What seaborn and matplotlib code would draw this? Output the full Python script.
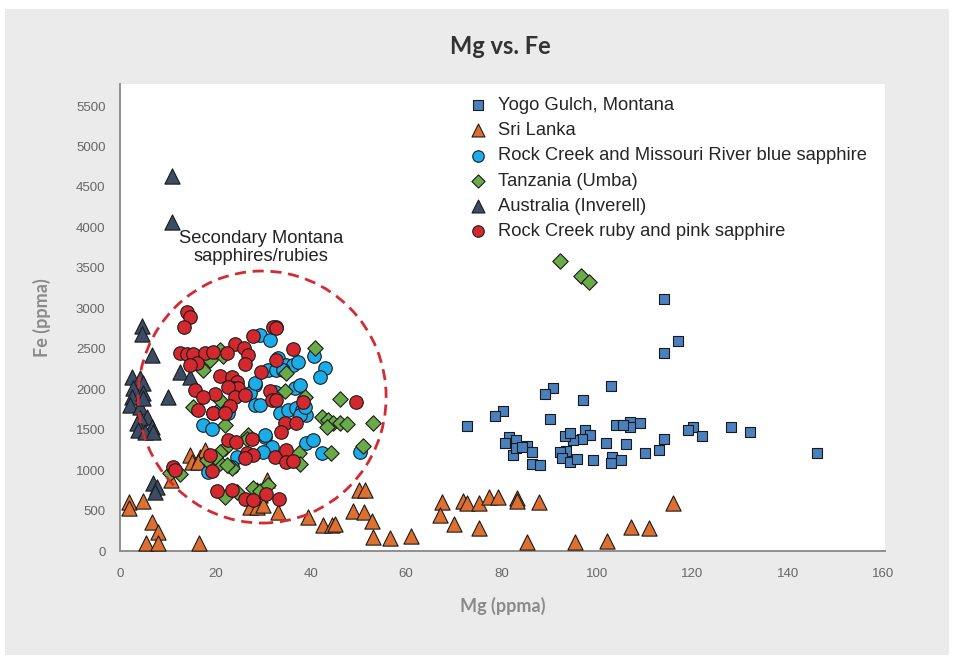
import numpy as np
import pandas as pd
import matplotlib
matplotlib.use("Agg")
import matplotlib.pyplot as plt
from matplotlib.patches import Ellipse, Rectangle
import seaborn as sns

# Mg / Fe values (ppma)
yogo_mg = [114.0, 117.0, 114.0, 90.8, 89.1, 103.0, 97.1, 80.3, 78.6, 72.7, 90.1, 104.0, 106.9, 109.0,
           106.9, 105.5, 120.1, 119.1, 122.0, 128.1, 132.1, 146.1, 114.0, 113.0, 110.0, 106.1, 101.9,
           97.9, 97.5, 98.5, 96.9, 95.0, 93.3, 94.3, 93.5, 92.2, 92.7, 94.3, 95.8, 99.2, 103.1, 102.9,
           105.0, 81.6, 83.0, 80.7, 85.3, 86.4, 82.4, 86.4, 88.1, 83.0, 84.3]
yogo_fe = [3115, 2596, 2447, 2015, 1940, 2040, 1866, 1730, 1669, 1545, 1632, 1557, 1594, 1582,
           1533, 1557, 1533, 1496, 1421, 1533, 1471, 1211, 1384, 1248, 1211, 1322, 1335,
           1434, 1496, 1434, 1384, 1372, 1421, 1458, 1236, 1224, 1149, 1100, 1137, 1125, 1162, 1088,
           1125, 1409, 1372, 1335, 1298, 1224, 1187, 1075, 1063, 1273, 1285]

srilanka_mg = [1.9, 1.9, 4.8, 6.7, 8.0, 5.5, 8.0, 16.6, 10.7, 14.7, 15.1, 16.8, 17.8, 16.4, 30.8,
               29.4, 28.7, 27.3, 28.7, 30.0, 33.1, 39.4, 42.6, 44.4, 45.1, 50.1, 51.4, 48.8, 51.2,
               52.8, 53.0, 56.6, 61.0, 67.5, 67.1, 70.0, 71.9, 72.7, 75.3, 75.3, 77.4, 79.2, 83.2,
               83.2, 87.8, 85.3, 95.4, 102.1, 107.1, 110.9, 115.9]
srilanka_fe = [606, 531, 618, 358, 235, 100, 100, 100, 878, 1187, 1100, 1162, 1248, 1100, 878,
               692, 754, 544, 544, 569, 482, 420, 320, 320, 330, 754, 754, 495, 482,
               370, 173, 161, 185, 606, 445, 334, 618, 593, 593, 284, 667, 667, 655,
               618, 606, 110, 110, 120, 297, 284, 593]

blue_mg = [29.4, 31.4, 32.8, 40.7, 43.0, 41.9, 33.2, 34.9, 36.3, 37.4, 31.1, 32.8, 34.2, 28.3, 27.3,
           28.3, 32.5, 36.7, 37.7, 33.5, 35.3, 37.0, 38.1, 39.1, 37.7, 38.8, 17.5, 19.2, 30.4, 31.8,
           30.0, 24.5, 23.4, 18.5, 39.1, 40.5, 42.3, 50.3, 21.0, 19.6, 28.3, 29.4, 30.4, 22.6]
blue_fe = [2670, 2608, 2772, 2410, 2258, 2146, 2381, 2299, 2299, 2340, 2237, 2237, 2237, 2052, 1949,
           1805, 1970, 2011, 2052, 1702, 1743, 1764, 1743, 1681, 1681, 1784, 1557, 1504, 1413, 1289,
           1227, 1166, 1042, 980, 1331, 1372, 1208, 1227, 1743, 1710, 2073, 1805, 1434, 1710]

tanzania_mg = [40.9, 34.9, 34.6, 38.8, 46.1, 53.1, 42.3, 43.7, 44.7, 46.1, 47.7, 43.3, 22.0, 17.5,
               18.9, 21.0, 21.6, 15.4, 21.0, 26.8, 22.0, 21.0, 23.4, 22.4, 37.6, 37.7, 44.2, 51.0,
               12.6, 10.5, 27.9, 29.4, 31.1, 22.0, 24.5, 21.0, 19.9, 18.2, 26.6, 92.2, 96.6, 98.3]
tanzania_fe = [2513, 2200, 1982, 1908, 1879, 1586, 1661, 1619, 1578, 1578, 1570, 1537, 1557, 2237,
               2361, 2484, 2410, 1784, 1866, 1434, 1269, 1084, 1022, 1063, 1208, 1075, 1208, 1302,
               948, 960, 775, 745, 816, 671, 733, 1227, 1166, 1125, 1390, 3584, 3399, 3325]

australia_mg = [10.9, 10.9, 4.6, 4.6, 6.7, 12.6, 14.7, 10.1, 2.5, 4.2, 4.8, 2.7, 2.5, 4.8, 2.1, 4.2,
                4.8, 5.7, 4.2, 3.6, 6.7, 3.8, 5.2, 6.9, 6.9, 7.8, 7.3]
australia_fe = [4635, 4066, 2781, 2682, 2423, 2212, 2151, 1903, 2151, 2138, 2076, 2015, 1903, 1953,
                1805, 1780, 1891, 1656, 1644, 1582, 1533, 1496, 1471, 1471, 840, 791, 729]

ruby_mg = [14.0, 14.7, 13.4, 32.1, 32.7, 27.9, 24.1, 25.9, 26.9, 26.2, 12.6, 14.0, 15.4, 17.8, 19.6,
           22.4, 16.1, 14.7, 36.3, 32.8, 29.5, 21.0, 23.4, 24.5, 23.7, 24.8, 22.7, 15.7, 19.9, 17.5,
           24.1, 26.2, 23.1, 19.6, 22.0, 16.4, 31.4, 31.8, 32.8, 38.3, 49.5, 34.6, 36.9, 33.7, 22.7,
           24.3, 27.6, 26.6, 27.9, 26.2, 18.9, 19.2, 32.5, 34.8, 34.9, 36.3, 11.2, 11.5, 20.3, 23.4,
           26.2, 27.9, 30.6, 33.4]
ruby_fe = [2958, 2896, 2765, 2772, 2752, 2657, 2559, 2505, 2423, 2311, 2451, 2435, 2435, 2451, 2464,
           2443, 2320, 2299, 2493, 2361, 2216, 2163, 2155, 2093, 2011, 2011, 2031, 1990, 1941, 1900,
           1908, 1928, 1792, 1710, 1702, 1743, 1982, 1866, 1866, 1845, 1845, 1586, 1578, 1475, 1372,
           1351, 1384, 1208, 1187, 1146, 1187, 993, 1158, 1248, 1104, 1116, 1042, 1001, 745, 754,
           643, 630, 701, 639]

localities = ["Yogo Gulch, Montana", "Sri Lanka", "Rock Creek and Missouri River blue sapphire",
              "Tanzania (Umba)", "Australia (Inverell)", "Rock Creek ruby and pink sapphire"]
groups = [(yogo_mg, yogo_fe), (srilanka_mg, srilanka_fe), (blue_mg, blue_fe),
          (tanzania_mg, tanzania_fe), (australia_mg, australia_fe), (ruby_mg, ruby_fe)]

frames = []
for name, (mg, fe) in zip(localities, groups):
    frames.append(pd.DataFrame({"Mg": mg, "Fe": fe, "Locality": name}))
df = pd.concat(frames, ignore_index=True)

colors = ["#4a80bd", "#dd7030", "#1badea", "#6aaa48", "#3c4c64", "#d4282f"]
markers = ["s", "^", "o", "D", "^", "o"]
sizes = [60, 120, 95, 62, 120, 95]
draw_order = [1, 4, 2, 3, 5, 0]

sns.set_style("white")
plt.rcParams["font.family"] = ["Liberation Sans", "DejaVu Sans"]

fig = plt.figure(figsize=(9.54, 6.6), dpi=100, facecolor="white")
fig.patches.append(Rectangle((5 / 954, 5 / 660), 944 / 954, 646 / 660, transform=fig.transFigure,
                             facecolor="#ebebeb", edgecolor="none", zorder=-10))
ax = fig.add_axes([120 / 954, 109 / 660, 765 / 954, 467 / 660])
ax.set_facecolor("white")

for i in draw_order:
    sub = df[df["Locality"] == localities[i]]
    sns.scatterplot(data=sub, x="Mg", y="Fe", marker=markers[i], color=colors[i], s=sizes[i],
                    edgecolor="#1a1a1a", linewidth=0.8, ax=ax, label=localities[i], zorder=3)

# dashed circle around the secondary Montana group
ax.add_patch(Ellipse((29.8, 1903), width=52, height=3115, fill=False, edgecolor="#d42a32",
                     linewidth=2, linestyle=(0, (4, 2.4)), zorder=4))
ax.text(29.6, 3750, "Secondary Montana\nsapphires/rubies", ha="center", va="center",
        fontsize=13.2, color="#222222", linespacing=1.1)

ax.set_xlim(0, 160.4)
ax.set_ylim(0, 5772)
ax.set_xticks(range(0, 161, 20))
ax.set_yticks(range(0, 5501, 500))
for side in ["top", "right"]:
    ax.spines[side].set_visible(False)
for side in ["left", "bottom"]:
    ax.spines[side].set_color("#8f8f8f")
    ax.spines[side].set_linewidth(1.4)
ax.tick_params(axis="both", colors="#8f8f8f", labelcolor="#666666", labelsize=9.5,
               direction="out", length=7, width=1.4)
ax.tick_params(axis="x", length=9)

ax.set_xlabel("Mg (ppma)", fontsize=13, fontweight="bold", color="#8a8a8a",
              family=["Lato", "DejaVu Sans"], labelpad=12)
ax.set_ylabel("Fe (ppma)", fontsize=13, fontweight="bold", color="#8a8a8a",
              family=["Lato", "DejaVu Sans"], labelpad=18)
fig.text(500 / 954, 1 - 47 / 660, "Mg vs. Fe", ha="center", va="center", fontsize=17,
         fontweight="bold", color="#333333", family=["Lato", "DejaVu Sans"])

h, l = ax.get_legend_handles_labels()
order = [l.index(name) for name in localities]
ax.legend([h[k] for k in order], [l[k] for k in order], loc="upper left",
          bbox_to_anchor=(0.427, 1.0), frameon=False, fontsize=13.2, handletextpad=0.1,
          labelspacing=0.45, markerscale=0.85, borderaxespad=0.3)

fig.savefig("out.png", dpi=100, facecolor=fig.get_facecolor())
